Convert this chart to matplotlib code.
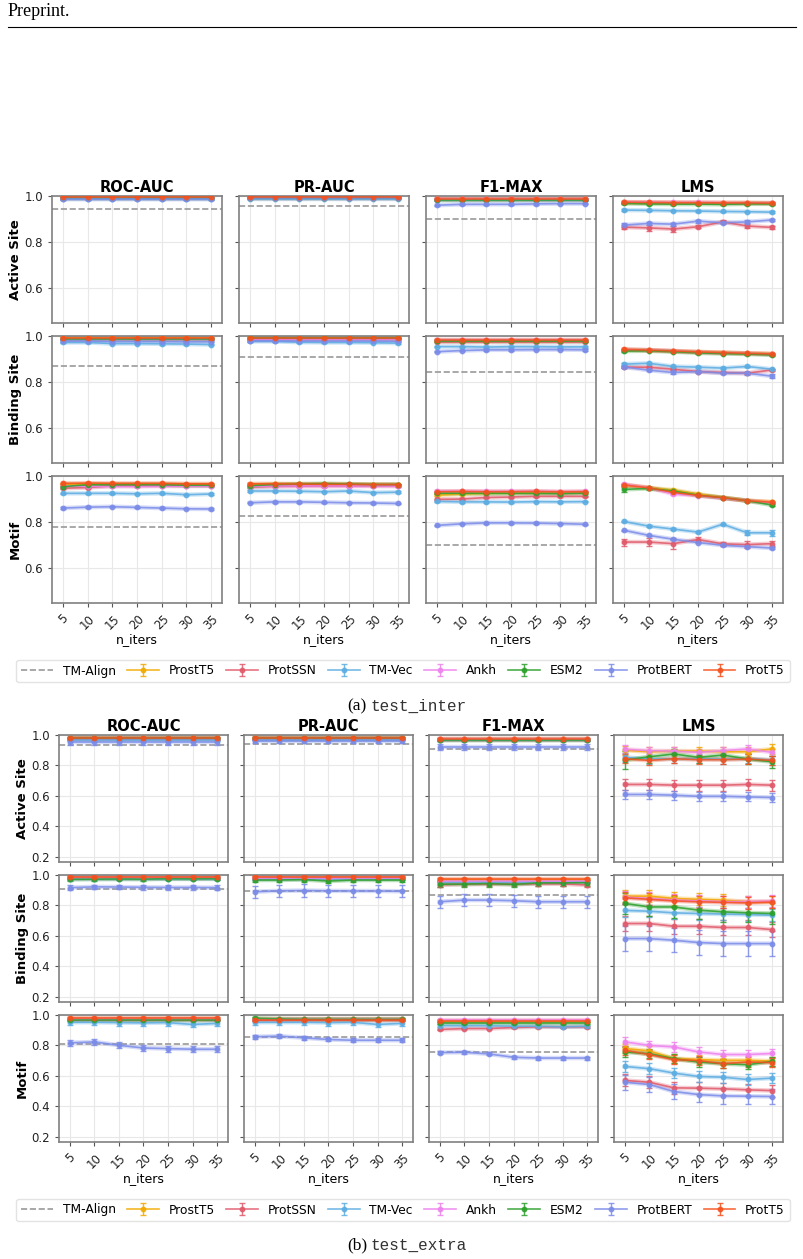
import numpy as np
import matplotlib.pyplot as plt
from matplotlib.lines import Line2D

n_iters = [5, 10, 15, 20, 25, 30, 35]
models = ["ProstT5", "ProtSSN", "TM-Vec", "Ankh", "ESM2", "ProtBERT", "ProtT5"]
tasks = ["Active Site", "Binding Site", "Motif"]
metrics = ["ROC-AUC", "PR-AUC", "F1-MAX", "LMS"]

colors = {
    "ProstT5": "#F2A900",
    "ProtSSN": "#E05A6B",
    "TM-Vec": "#5DADE2",
    "Ankh": "#EE82EE",
    "ESM2": "#2CA02C",
    "ProtBERT": "#7B8CE8",
    "ProtT5": "#F4511E",
}

# ---------------- (a) test_inter ----------------
# TM-Align baseline per task (Active, Binding, Motif)
tm_align_inter_roc = [0.942, 0.871, 0.777]
tm_align_inter_pr = [0.957, 0.911, 0.826]
tm_align_inter_f1 = [0.899, 0.842, 0.700]

inter_active_roc = {
    "ProstT5": [0.993, 0.993, 0.993, 0.993, 0.993, 0.993, 0.993],
    "ProtSSN": [0.990, 0.990, 0.990, 0.990, 0.990, 0.990, 0.990],
    "TM-Vec": [0.985, 0.985, 0.985, 0.985, 0.985, 0.985, 0.985],
    "Ankh": [0.992, 0.992, 0.992, 0.992, 0.992, 0.992, 0.992],
    "ESM2": [0.992, 0.992, 0.992, 0.992, 0.992, 0.992, 0.992],
    "ProtBERT": [0.987, 0.987, 0.987, 0.987, 0.987, 0.987, 0.987],
    "ProtT5": [0.994, 0.994, 0.994, 0.994, 0.994, 0.994, 0.994],
}
inter_active_pr = {
    "ProstT5": [0.993, 0.993, 0.993, 0.993, 0.993, 0.993, 0.993],
    "ProtSSN": [0.991, 0.991, 0.991, 0.991, 0.991, 0.991, 0.991],
    "TM-Vec": [0.989, 0.989, 0.989, 0.989, 0.989, 0.989, 0.989],
    "Ankh": [0.993, 0.993, 0.993, 0.993, 0.993, 0.993, 0.993],
    "ESM2": [0.993, 0.993, 0.993, 0.993, 0.993, 0.993, 0.993],
    "ProtBERT": [0.990, 0.990, 0.990, 0.990, 0.990, 0.990, 0.990],
    "ProtT5": [0.994, 0.994, 0.994, 0.994, 0.994, 0.994, 0.994],
}
inter_active_f1 = {
    "ProstT5": [0.985, 0.985, 0.985, 0.985, 0.985, 0.985, 0.985],
    "ProtSSN": [0.988, 0.988, 0.988, 0.988, 0.988, 0.988, 0.988],
    "TM-Vec": [0.981, 0.981, 0.981, 0.981, 0.981, 0.981, 0.981],
    "Ankh": [0.987, 0.987, 0.987, 0.987, 0.987, 0.987, 0.987],
    "ESM2": [0.984, 0.984, 0.984, 0.984, 0.984, 0.984, 0.984],
    "ProtBERT": [0.960, 0.964, 0.964, 0.964, 0.966, 0.967, 0.967],
    "ProtT5": [0.986, 0.986, 0.986, 0.986, 0.986, 0.986, 0.986],
}
inter_active_lms = {
    "ProstT5": [0.972, 0.971, 0.971, 0.970, 0.970, 0.970, 0.969],
    "ProtSSN": [0.865, 0.862, 0.857, 0.867, 0.888, 0.870, 0.864],
    "TM-Vec": [0.939, 0.938, 0.936, 0.935, 0.933, 0.932, 0.930],
    "Ankh": [0.974, 0.973, 0.972, 0.972, 0.971, 0.970, 0.970],
    "ESM2": [0.968, 0.966, 0.965, 0.965, 0.964, 0.966, 0.966],
    "ProtBERT": [0.874, 0.881, 0.878, 0.891, 0.884, 0.888, 0.896],
    "ProtT5": [0.973, 0.972, 0.971, 0.971, 0.970, 0.970, 0.969],
}
inter_binding_roc = {
    "ProstT5": [0.990, 0.990, 0.990, 0.990, 0.990, 0.990, 0.990],
    "ProtSSN": [0.985, 0.985, 0.985, 0.985, 0.985, 0.985, 0.985],
    "TM-Vec": [0.972, 0.972, 0.967, 0.967, 0.966, 0.965, 0.963],
    "Ankh": [0.988, 0.988, 0.988, 0.988, 0.988, 0.988, 0.988],
    "ESM2": [0.989, 0.989, 0.989, 0.989, 0.989, 0.989, 0.989],
    "ProtBERT": [0.978, 0.978, 0.976, 0.976, 0.976, 0.975, 0.975],
    "ProtT5": [0.991, 0.991, 0.991, 0.991, 0.991, 0.991, 0.991],
}
inter_binding_pr = {
    "ProstT5": [0.990, 0.990, 0.990, 0.990, 0.990, 0.990, 0.990],
    "ProtSSN": [0.986, 0.986, 0.986, 0.986, 0.986, 0.986, 0.986],
    "TM-Vec": [0.977, 0.977, 0.973, 0.972, 0.972, 0.971, 0.969],
    "Ankh": [0.989, 0.989, 0.989, 0.989, 0.989, 0.989, 0.989],
    "ESM2": [0.990, 0.990, 0.990, 0.990, 0.990, 0.990, 0.990],
    "ProtBERT": [0.979, 0.979, 0.978, 0.978, 0.978, 0.978, 0.977],
    "ProtT5": [0.991, 0.991, 0.991, 0.991, 0.991, 0.991, 0.991],
}
inter_binding_f1 = {
    "ProstT5": [0.980, 0.980, 0.980, 0.980, 0.980, 0.980, 0.980],
    "ProtSSN": [0.976, 0.976, 0.976, 0.976, 0.976, 0.976, 0.976],
    "TM-Vec": [0.954, 0.954, 0.952, 0.954, 0.954, 0.953, 0.953],
    "Ankh": [0.981, 0.981, 0.981, 0.981, 0.981, 0.981, 0.981],
    "ESM2": [0.979, 0.979, 0.979, 0.979, 0.979, 0.979, 0.979],
    "ProtBERT": [0.932, 0.937, 0.940, 0.940, 0.941, 0.941, 0.940],
    "ProtT5": [0.983, 0.983, 0.983, 0.983, 0.983, 0.983, 0.983],
}
inter_binding_lms = {
    "ProstT5": [0.940, 0.938, 0.934, 0.931, 0.928, 0.925, 0.923],
    "ProtSSN": [0.865, 0.865, 0.856, 0.846, 0.842, 0.839, 0.853],
    "TM-Vec": [0.878, 0.882, 0.868, 0.865, 0.861, 0.868, 0.856],
    "Ankh": [0.941, 0.939, 0.935, 0.930, 0.927, 0.925, 0.921],
    "ESM2": [0.935, 0.936, 0.932, 0.927, 0.924, 0.922, 0.918],
    "ProtBERT": [0.866, 0.852, 0.842, 0.846, 0.839, 0.839, 0.826],
    "ProtT5": [0.942, 0.939, 0.935, 0.931, 0.928, 0.925, 0.922],
}
inter_motif_roc = {
    "ProstT5": [0.963, 0.965, 0.964, 0.964, 0.963, 0.963, 0.963],
    "ProtSSN": [0.947, 0.950, 0.957, 0.957, 0.958, 0.958, 0.958],
    "TM-Vec": [0.925, 0.925, 0.925, 0.923, 0.925, 0.919, 0.922],
    "Ankh": [0.958, 0.955, 0.955, 0.955, 0.956, 0.956, 0.956],
    "ESM2": [0.954, 0.962, 0.962, 0.962, 0.962, 0.960, 0.960],
    "ProtBERT": [0.861, 0.865, 0.867, 0.864, 0.861, 0.858, 0.857],
    "ProtT5": [0.968, 0.969, 0.968, 0.968, 0.968, 0.966, 0.966],
}
inter_motif_pr = {
    "ProstT5": [0.962, 0.964, 0.964, 0.964, 0.963, 0.962, 0.962],
    "ProtSSN": [0.952, 0.955, 0.956, 0.956, 0.957, 0.957, 0.957],
    "TM-Vec": [0.935, 0.935, 0.934, 0.932, 0.935, 0.928, 0.930],
    "Ankh": [0.955, 0.957, 0.957, 0.957, 0.957, 0.957, 0.956],
    "ESM2": [0.958, 0.963, 0.965, 0.967, 0.965, 0.963, 0.963],
    "ProtBERT": [0.884, 0.888, 0.888, 0.886, 0.884, 0.883, 0.881],
    "ProtT5": [0.966, 0.966, 0.965, 0.964, 0.964, 0.963, 0.963],
}
inter_motif_f1 = {
    "ProstT5": [0.917, 0.922, 0.925, 0.927, 0.928, 0.928, 0.929],
    "ProtSSN": [0.899, 0.900, 0.907, 0.909, 0.912, 0.912, 0.912],
    "TM-Vec": [0.890, 0.888, 0.888, 0.887, 0.889, 0.888, 0.889],
    "Ankh": [0.934, 0.934, 0.933, 0.933, 0.934, 0.932, 0.933],
    "ESM2": [0.925, 0.925, 0.925, 0.925, 0.925, 0.924, 0.926],
    "ProtBERT": [0.786, 0.793, 0.797, 0.797, 0.796, 0.794, 0.791],
    "ProtT5": [0.932, 0.933, 0.932, 0.932, 0.933, 0.931, 0.932],
}
inter_motif_lms = {
    "ProstT5": [0.961, 0.949, 0.939, 0.922, 0.906, 0.893, 0.888],
    "ProtSSN": [0.714, 0.714, 0.707, 0.725, 0.706, 0.703, 0.707],
    "TM-Vec": [0.803, 0.783, 0.770, 0.757, 0.791, 0.754, 0.754],
    "Ankh": [0.964, 0.949, 0.922, 0.915, 0.903, 0.893, 0.884],
    "ESM2": [0.942, 0.946, 0.935, 0.917, 0.906, 0.893, 0.874],
    "ProtBERT": [0.765, 0.743, 0.726, 0.712, 0.700, 0.694, 0.688],
    "ProtT5": [0.961, 0.949, 0.929, 0.916, 0.906, 0.893, 0.886],
}

# error bars (std) where they are visible; everything else uses a small default
inter_active_lms_err = {"ProtSSN": [0.008, 0.012, 0.012, 0.006, 0.006, 0.008, 0.006],
                        "ProtBERT": [0.010, 0.006, 0.006, 0.006, 0.006, 0.006, 0.006]}
inter_binding_lms_err = {"ProtBERT": [0.006, 0.005, 0.005, 0.005, 0.005, 0.006, 0.008]}
inter_motif_lms_err = {"ProtSSN": [0.015, 0.018, 0.025, 0.010, 0.010, 0.015, 0.012],
                       "TM-Vec": [0.003, 0.003, 0.003, 0.003, 0.003, 0.010, 0.012],
                       "ESM2": [0.010, 0.005, 0.005, 0.005, 0.005, 0.005, 0.006]}

# ---------------- (b) test_extra ----------------
tm_align_extra_roc = [0.934, 0.906, 0.810]
tm_align_extra_pr = [0.940, 0.894, 0.854]
tm_align_extra_f1 = [0.906, 0.868, 0.755]

extra_active_roc = {
    "ProstT5": [0.980, 0.980, 0.980, 0.980, 0.980, 0.980, 0.980],
    "ProtSSN": [0.975, 0.975, 0.975, 0.975, 0.975, 0.975, 0.975],
    "TM-Vec": [0.968, 0.968, 0.968, 0.968, 0.968, 0.968, 0.968],
    "Ankh": [0.978, 0.978, 0.978, 0.978, 0.978, 0.978, 0.978],
    "ESM2": [0.977, 0.977, 0.977, 0.977, 0.977, 0.977, 0.977],
    "ProtBERT": [0.952, 0.952, 0.952, 0.952, 0.952, 0.952, 0.952],
    "ProtT5": [0.982, 0.982, 0.982, 0.982, 0.982, 0.982, 0.982],
}
extra_active_pr = {
    "ProstT5": [0.980, 0.980, 0.980, 0.980, 0.980, 0.980, 0.980],
    "ProtSSN": [0.976, 0.976, 0.976, 0.976, 0.976, 0.976, 0.976],
    "TM-Vec": [0.970, 0.970, 0.970, 0.970, 0.970, 0.970, 0.970],
    "Ankh": [0.979, 0.979, 0.979, 0.979, 0.979, 0.979, 0.979],
    "ESM2": [0.978, 0.978, 0.978, 0.978, 0.978, 0.978, 0.978],
    "ProtBERT": [0.962, 0.962, 0.962, 0.962, 0.962, 0.962, 0.962],
    "ProtT5": [0.982, 0.982, 0.982, 0.982, 0.982, 0.982, 0.982],
}
extra_active_f1 = {
    "ProstT5": [0.972, 0.972, 0.972, 0.972, 0.972, 0.972, 0.972],
    "ProtSSN": [0.969, 0.969, 0.969, 0.969, 0.969, 0.969, 0.969],
    "TM-Vec": [0.965, 0.965, 0.965, 0.965, 0.965, 0.965, 0.965],
    "Ankh": [0.972, 0.972, 0.972, 0.972, 0.972, 0.972, 0.972],
    "ESM2": [0.968, 0.968, 0.968, 0.968, 0.968, 0.968, 0.968],
    "ProtBERT": [0.919, 0.919, 0.919, 0.919, 0.919, 0.919, 0.919],
    "ProtT5": [0.974, 0.974, 0.974, 0.974, 0.974, 0.974, 0.974],
}
extra_active_lms = {
    "ProstT5": [0.900, 0.890, 0.894, 0.894, 0.890, 0.890, 0.908],
    "ProtSSN": [0.675, 0.675, 0.670, 0.670, 0.670, 0.675, 0.670],
    "TM-Vec": [0.853, 0.842, 0.844, 0.844, 0.842, 0.844, 0.835],
    "Ankh": [0.906, 0.897, 0.894, 0.886, 0.897, 0.908, 0.886],
    "ESM2": [0.835, 0.857, 0.875, 0.853, 0.868, 0.842, 0.824],
    "ProtBERT": [0.609, 0.609, 0.604, 0.597, 0.597, 0.593, 0.589],
    "ProtT5": [0.844, 0.833, 0.844, 0.838, 0.838, 0.842, 0.833],
}
extra_binding_roc = {
    "ProstT5": [0.982, 0.982, 0.982, 0.982, 0.982, 0.982, 0.982],
    "ProtSSN": [0.978, 0.978, 0.978, 0.978, 0.978, 0.978, 0.978],
    "TM-Vec": [0.975, 0.975, 0.975, 0.975, 0.975, 0.975, 0.975],
    "Ankh": [0.983, 0.983, 0.983, 0.983, 0.983, 0.983, 0.983],
    "ESM2": [0.972, 0.973, 0.974, 0.973, 0.976, 0.975, 0.976],
    "ProtBERT": [0.917, 0.922, 0.921, 0.919, 0.918, 0.918, 0.917],
    "ProtT5": [0.985, 0.985, 0.985, 0.985, 0.985, 0.985, 0.985],
}
extra_binding_pr = {
    "ProstT5": [0.982, 0.982, 0.982, 0.982, 0.982, 0.982, 0.982],
    "ProtSSN": [0.978, 0.978, 0.978, 0.978, 0.978, 0.978, 0.978],
    "TM-Vec": [0.975, 0.975, 0.975, 0.975, 0.975, 0.975, 0.975],
    "Ankh": [0.981, 0.981, 0.981, 0.981, 0.981, 0.981, 0.981],
    "ESM2": [0.967, 0.967, 0.970, 0.960, 0.967, 0.967, 0.967],
    "ProtBERT": [0.890, 0.896, 0.898, 0.896, 0.895, 0.895, 0.893],
    "ProtT5": [0.985, 0.985, 0.985, 0.985, 0.985, 0.985, 0.985],
}
extra_binding_f1 = {
    "ProstT5": [0.968, 0.968, 0.968, 0.968, 0.968, 0.968, 0.968],
    "ProtSSN": [0.936, 0.940, 0.940, 0.940, 0.942, 0.942, 0.934],
    "TM-Vec": [0.957, 0.957, 0.957, 0.957, 0.957, 0.957, 0.957],
    "Ankh": [0.962, 0.962, 0.962, 0.962, 0.962, 0.962, 0.962],
    "ESM2": [0.940, 0.940, 0.944, 0.938, 0.948, 0.948, 0.950],
    "ProtBERT": [0.824, 0.835, 0.835, 0.831, 0.824, 0.824, 0.824],
    "ProtT5": [0.971, 0.971, 0.971, 0.971, 0.971, 0.971, 0.971],
}
extra_binding_lms = {
    "ProstT5": [0.861, 0.861, 0.846, 0.840, 0.835, 0.824, 0.824],
    "ProtSSN": [0.681, 0.681, 0.663, 0.663, 0.655, 0.655, 0.641],
    "TM-Vec": [0.767, 0.762, 0.751, 0.747, 0.743, 0.740, 0.736],
    "Ankh": [0.855, 0.845, 0.835, 0.830, 0.825, 0.825, 0.828],
    "ESM2": [0.813, 0.790, 0.790, 0.769, 0.758, 0.751, 0.747],
    "ProtBERT": [0.582, 0.582, 0.571, 0.556, 0.549, 0.549, 0.549],
    "ProtT5": [0.850, 0.840, 0.830, 0.824, 0.820, 0.817, 0.822],
}
extra_motif_roc = {
    "ProstT5": [0.975, 0.975, 0.975, 0.975, 0.975, 0.975, 0.975],
    "ProtSSN": [0.965, 0.965, 0.965, 0.965, 0.965, 0.965, 0.965],
    "TM-Vec": [0.952, 0.952, 0.950, 0.948, 0.950, 0.938, 0.945],
    "Ankh": [0.972, 0.972, 0.972, 0.972, 0.972, 0.972, 0.972],
    "ESM2": [0.970, 0.970, 0.970, 0.970, 0.970, 0.970, 0.970],
    "ProtBERT": [0.817, 0.823, 0.801, 0.783, 0.779, 0.775, 0.775],
    "ProtT5": [0.978, 0.978, 0.978, 0.978, 0.978, 0.978, 0.978],
}
extra_motif_pr = {
    "ProstT5": [0.972, 0.972, 0.972, 0.972, 0.972, 0.972, 0.972],
    "ProtSSN": [0.965, 0.965, 0.965, 0.965, 0.965, 0.965, 0.965],
    "TM-Vec": [0.952, 0.952, 0.952, 0.950, 0.952, 0.938, 0.945],
    "Ankh": [0.975, 0.975, 0.975, 0.975, 0.975, 0.975, 0.975],
    "ESM2": [0.978, 0.974, 0.972, 0.972, 0.972, 0.972, 0.972],
    "ProtBERT": [0.857, 0.861, 0.850, 0.839, 0.834, 0.834, 0.834],
    "ProtT5": [0.968, 0.968, 0.968, 0.968, 0.968, 0.968, 0.968],
}
extra_motif_f1 = {
    "ProstT5": [0.958, 0.958, 0.958, 0.958, 0.958, 0.958, 0.958],
    "ProtSSN": [0.905, 0.911, 0.911, 0.918, 0.922, 0.922, 0.922],
    "TM-Vec": [0.930, 0.930, 0.930, 0.926, 0.926, 0.922, 0.926],
    "Ankh": [0.967, 0.967, 0.967, 0.967, 0.967, 0.967, 0.967],
    "ESM2": [0.945, 0.945, 0.945, 0.945, 0.945, 0.945, 0.945],
    "ProtBERT": [0.753, 0.755, 0.744, 0.722, 0.717, 0.717, 0.717],
    "ProtT5": [0.960, 0.960, 0.960, 0.960, 0.960, 0.960, 0.960],
}
extra_motif_lms = {
    "ProstT5": [0.780, 0.764, 0.713, 0.707, 0.702, 0.702, 0.697],
    "ProtSSN": [0.570, 0.558, 0.521, 0.519, 0.515, 0.508, 0.503],
    "TM-Vec": [0.662, 0.647, 0.618, 0.596, 0.591, 0.576, 0.585],
    "Ankh": [0.823, 0.800, 0.790, 0.757, 0.740, 0.740, 0.747],
    "ESM2": [0.757, 0.745, 0.713, 0.691, 0.680, 0.673, 0.695],
    "ProtBERT": [0.558, 0.543, 0.497, 0.477, 0.468, 0.466, 0.464],
    "ProtT5": [0.768, 0.740, 0.707, 0.700, 0.680, 0.691, 0.687],
}

extra_active_roc_err = {"ProtBERT": 0.015}
extra_active_pr_err = {"ProtBERT": 0.015}
extra_active_f1_err = {"ProtBERT": 0.02}
extra_active_lms_err = {"ProstT5": 0.03, "ProtSSN": 0.035, "TM-Vec": 0.03, "Ankh": 0.025,
                        "ESM2": [0.06, 0.04, 0.035, 0.04, 0.035, 0.03, 0.04],
                        "ProtBERT": 0.03, "ProtT5": 0.03}
extra_binding_roc_err = {"ProtBERT": 0.015, "ESM2": 0.01}
extra_binding_pr_err = {"ProtBERT": 0.04, "ESM2": 0.015}
extra_binding_f1_err = {"ProtBERT": 0.04, "ESM2": 0.02, "ProtSSN": 0.015}
extra_binding_lms_err = {"ProstT5": 0.04, "ProtSSN": 0.05, "TM-Vec": 0.04, "Ankh": 0.04,
                         "ESM2": [0.07, 0.06, 0.07, 0.06, 0.07, 0.06, 0.07],
                         "ProtBERT": 0.08, "ProtT5": 0.04}
extra_motif_roc_err = {"ProtBERT": 0.02, "TM-Vec": 0.02}
extra_motif_pr_err = {"ProtBERT": 0.012, "TM-Vec": 0.02}
extra_motif_f1_err = {"ProtBERT": 0.01, "TM-Vec": 0.01}
extra_motif_lms_err = {"Ankh": 0.03, "ProstT5": 0.03, "ESM2": 0.03, "ProtT5": 0.03,
                       "TM-Vec": 0.035, "ProtSSN": 0.04, "ProtBERT": 0.05}

inter_panels = [
    [inter_active_roc, inter_active_pr, inter_active_f1, inter_active_lms],
    [inter_binding_roc, inter_binding_pr, inter_binding_f1, inter_binding_lms],
    [inter_motif_roc, inter_motif_pr, inter_motif_f1, inter_motif_lms],
]
inter_errs = [
    [{}, {}, {}, inter_active_lms_err],
    [{}, {}, {}, inter_binding_lms_err],
    [{}, {}, {}, inter_motif_lms_err],
]
extra_panels = [
    [extra_active_roc, extra_active_pr, extra_active_f1, extra_active_lms],
    [extra_binding_roc, extra_binding_pr, extra_binding_f1, extra_binding_lms],
    [extra_motif_roc, extra_motif_pr, extra_motif_f1, extra_motif_lms],
]
extra_errs = [
    [extra_active_roc_err, extra_active_pr_err, extra_active_f1_err, extra_active_lms_err],
    [extra_binding_roc_err, extra_binding_pr_err, extra_binding_f1_err, extra_binding_lms_err],
    [extra_motif_roc_err, extra_motif_pr_err, extra_motif_f1_err, extra_motif_lms_err],
]

W, H = 804, 1259
fig = plt.figure(figsize=(W / 100, H / 100), dpi=100)


def draw_block(gs, panels, errs, baselines, ylim, yticks, default_err):
    handles = None
    for r in range(3):
        for c in range(4):
            ax = fig.add_subplot(gs[r, c])
            data = panels[r][c]
            if c < 3:
                ax.axhline(baselines[c][r], color="#999999", ls="--", lw=1.2, zorder=1)
            hs = []
            for m in models:
                y = np.array(data[m])
                e = np.broadcast_to(np.array(errs[r][c].get(m, default_err), dtype=float), y.shape)
                ax.plot(n_iters, y, color=colors[m], lw=3.2, alpha=0.3, zorder=2)
                h = ax.errorbar(n_iters, y, yerr=e, color=colors[m], marker="o", ms=3.2,
                                lw=1.2, elinewidth=1.0, capsize=2, alpha=0.85, zorder=3)
                hs.append(h)
            if handles is None:
                handles = hs
            ax.set_ylim(*ylim)
            ax.set_yticks(yticks)
            ax.set_xlim(2.8, 37.2)
            ax.set_xticks(n_iters)
            ax.grid(True, color="#e8e8e8", lw=0.8)
            ax.set_axisbelow(True)
            for s in ax.spines.values():
                s.set_color("#808080")
                s.set_linewidth(1.2)
            ax.tick_params(labelsize=8.5, colors="#222222", length=3)
            ax.tick_params(axis="both", color="#555555")
            if r == 0:
                ax.set_title(metrics[c], fontsize=10.5, fontweight="bold", pad=3)
            if c == 0:
                ax.set_ylabel(tasks[r], fontsize=9.5, fontweight="bold", labelpad=2)
            else:
                ax.tick_params(labelleft=False)
            if r == 2:
                ax.set_xticklabels([str(v) for v in n_iters], rotation=45)
                ax.set_xlabel("n_iters", fontsize=9, labelpad=1)
            else:
                ax.tick_params(labelbottom=False)
    return handles


gs_a = fig.add_gridspec(3, 4, left=52 / W, right=783 / W, top=1 - 196 / H, bottom=1 - 603 / H,
                        wspace=17 / 170, hspace=13 / 127)
gs_b = fig.add_gridspec(3, 4, left=59 / W, right=783 / W, top=1 - 735 / H, bottom=1 - 1142 / H,
                        wspace=16 / 169, hspace=13 / 127)

h_a = draw_block(gs_a, inter_panels, inter_errs,
                 [tm_align_inter_roc, tm_align_inter_pr, tm_align_inter_f1],
                 (0.45, 1.0), [0.6, 0.8, 1.0], 0.003)
h_b = draw_block(gs_b, extra_panels, extra_errs,
                 [tm_align_extra_roc, tm_align_extra_pr, tm_align_extra_f1],
                 (0.165, 1.0), [0.2, 0.4, 0.6, 0.8, 1.0], 0.006)

tm_handle = Line2D([], [], color="#999999", ls="--", lw=1.2)
for hs, yc in [(h_a, 671), (h_b, 1210)]:
    fig.legend([tm_handle] + hs, ["TM-Align"] + models, loc="center",
               bbox_to_anchor=(10 / W, 1 - (yc + 11) / H, 786 / W, 22 / H), mode="expand",
               ncol=8, fontsize=8.8, frameon=True, fancybox=True, edgecolor="#dddddd",
               handlelength=2.6, borderpad=0.4, handletextpad=0.8)

# page furniture
fig.text(8 / W, 1 - 12 / H, "Preprint.", fontsize=13, family="Liberation Serif", va="center")
fig.add_artist(Line2D([8 / W, 796 / W], [1 - 27 / H, 1 - 27 / H], color="black", lw=0.8))
for lab, mono, yc in [("(a)", "test_inter", 706), ("(b)", "test_extra", 1245)]:
    fig.text(367 / W, 1 - yc / H, lab, fontsize=12.5, family="Liberation Serif",
             ha="right", va="center")
    fig.text(371 / W, 1 - yc / H, mono, fontsize=11.5, family="Liberation Mono",
             ha="left", va="center", color="#333333")

fig.savefig("out.png", dpi=100)
